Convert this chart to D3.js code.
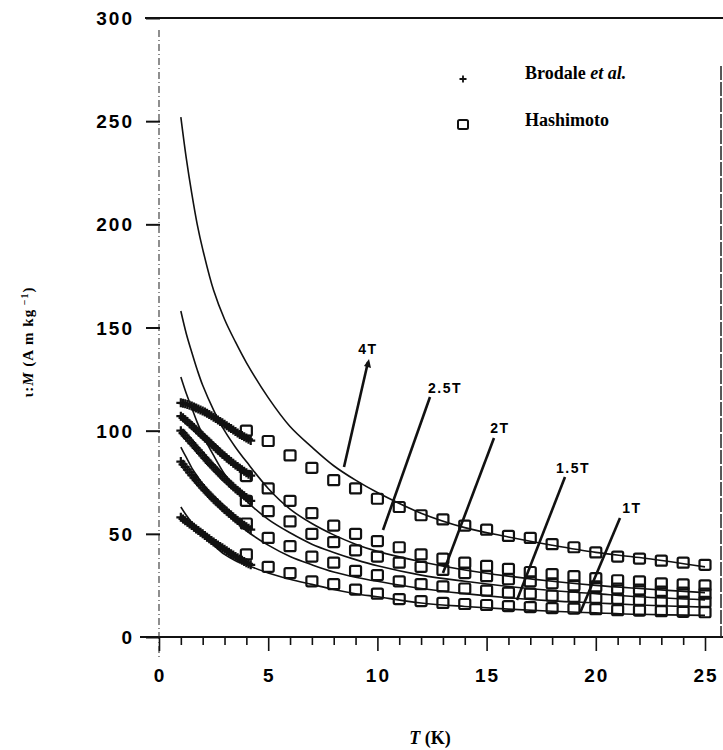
<!DOCTYPE html>
<html>
<head>
<meta charset="utf-8">
<script src="https://cdn.jsdelivr.net/npm/d3@7/dist/d3.min.js"></script>
<style>
  html, body { margin: 0; padding: 0; background: #fff; }
  svg { display: block; }
</style>
</head>
<body>
<svg id="chart" width="723" height="750"></svg>
<script>
// Magnetisation vs temperature for several applied fields
const fields = ["4T", "2.5T", "2T", "1.5T", "1T"];

// Calculated curves (solid lines)
const curveT = [1, 1.25, 1.5, 1.75, 2, 2.5, 3, 3.5, 4, 5, 6, 7, 8, 9, 10, 12, 14, 16, 18, 20, 22, 25];
const curve4T  = [252, 232, 215, 200, 188, 168, 154, 143, 133, 116, 102, 92, 83, 76, 70, 60, 53, 48.5, 44.5, 41, 38.5, 34];
const curve25T = [158, 147, 138, 129.5, 122, 110, 100, 92, 85, 72, 62, 55, 49.5, 45, 41.5, 36.5, 32.5, 29.5, 27, 25, 23.5, 21.5];
const curve2T  = [126, 118, 111, 104, 98, 88, 79, 72, 66, 57, 50.5, 45, 41, 37.5, 34.5, 30, 27, 24.5, 22.5, 21, 19.5, 18];
const curve15T = [92, 87, 82, 78, 74, 67, 61, 56, 51.5, 44.5, 39, 35, 31.5, 29, 27, 23.5, 21, 19, 17.5, 16.5, 15.5, 14.5];
const curve1T  = [63, 59, 55.5, 52.5, 49.5, 44.5, 40, 37, 35, 31, 28, 25.5, 23, 21, 19.5, 16.5, 14.8, 13.5, 12.5, 11.7, 11, 10.5];

// Brodale et al. (crosses), 1.0 K to 4.2 K
const brodaleT = [1.0,1.1,1.2,1.3,1.4,1.5,1.6,1.7,1.8,1.9,2.0,2.1,2.2,2.3,2.4,2.5,2.6,2.7,2.8,2.9,3.0,3.1,3.2,3.3,3.4,3.5,3.6,3.7,3.8,3.9,4.0,4.1,4.2];
const brodale4T  = [113.5,113.3,113,112.7,112.3,112,111.5,111,110.5,110,109.5,109,108.4,107.8,107.2,106.5,105.9,105.2,104.5,103.8,103.1,102.4,101.7,101,100.3,99.6,98.9,98.2,97.6,97,96.4,95.8,95.2];
const brodale25T = [107,106.2,105.3,104.4,103.4,102.5,101.5,100.5,99.5,98.5,97.5,96.5,95.5,94.5,93.5,92.5,91.5,90.5,89.5,88.6,87.7,86.8,85.9,85,84.2,83.4,82.6,81.8,81,80.3,79.6,78.9,78.2];
const brodale2T  = [100,98.8,97.6,96.4,95.2,94,92.8,91.6,90.4,89.2,88,86.8,85.6,84.4,83.3,82.2,81.1,80,78.9,77.8,76.8,75.8,74.8,73.8,72.8,71.9,71,70.1,69.2,68.4,67.6,66.8,66];
const brodale15T = [85,83.7,82.4,81.1,79.8,78.5,77.2,76,74.8,73.6,72.4,71.2,70.1,69,67.9,66.8,65.8,64.8,63.8,62.8,61.8,60.9,60,59.1,58.2,57.3,56.5,55.7,54.9,54.1,53.4,52.7,52];
const brodale1T  = [58,57.2,56.4,55.6,54.8,54,53.2,52.4,51.6,50.8,50,49.2,48.4,47.6,46.8,46,45.3,44.6,43.9,43.2,42.5,41.8,41.1,40.4,39.7,39,38.4,37.8,37.2,36.6,36,35.5,35];

// Hashimoto (squares), 4 K to 25 K
const hashiT = [4,5,6,7,8,9,10,11,12,13,14,15,16,17,18,19,20,21,22,23,24,25];
const hashi4T  = [100,95,88,82,76,72,67,63,59,57,54,52,49,48,45,43.5,41,39,38,37,36,35];
const hashi25T = [78,72,66,60,54,50,46.5,43.5,40,38,36,34.5,33,31.5,30.5,29.5,28.5,27.5,27,26,25.5,25];
const hashi2T  = [66,61,56,50,46,42,39,36,34,32.5,31,29.5,28,27,26,25,24.5,23.5,23,22,21.5,21];
const hashi15T = [55,48,44,39,36,32,30,27,25.6,24.5,23.5,22.5,21.5,21,20,19.5,19,18.5,18,17.5,17.2,17];
const hashi1T  = [40,34,31,27,25.6,23,21,18.4,17.4,16.5,16,15.5,15,14.5,14,13.8,13.5,13,12.8,12.5,12.2,12];

const xTickLabels = [0, 5, 10, 15, 20, 25];
const yTickLabels = [0, 50, 100, 150, 200, 250, 300];
const legendLabels = ["Brodale", "Hashimoto"];

const curves   = [curve4T, curve25T, curve2T, curve15T, curve1T];
const brodale  = [brodale4T, brodale25T, brodale2T, brodale15T, brodale1T];
const hashi    = [hashi4T, hashi25T, hashi2T, hashi15T, hashi1T];

const svg = d3.select("#chart");
const x = d3.scaleLinear().domain([0, 25]).range([159, 705]);
const y = d3.scaleLinear().domain([0, 300]).range([637, 18]);

const sans = "'Liberation Sans', Arial, sans-serif";
const serif = "'Liberation Serif', 'Times New Roman', serif";

// frame: top and bottom solid, left dash-dot, right partial
svg.append("line").attr("x1", 145).attr("x2", 723).attr("y1", y(300)).attr("y2", y(300))
  .attr("stroke", "#111").attr("stroke-width", 2);
svg.append("line").attr("x1", 140).attr("x2", 723).attr("y1", y(0)).attr("y2", y(0))
  .attr("stroke", "#111").attr("stroke-width", 2.2);
svg.append("line").attr("x1", x(0)).attr("x2", x(0)).attr("y1", 30).attr("y2", 660)
  .attr("stroke", "#333").attr("stroke-width", 1.1).attr("stroke-dasharray", "7,3,1,3");
svg.append("line").attr("x1", 721).attr("x2", 721).attr("y1", 66).attr("y2", y(0))
  .attr("stroke", "#222").attr("stroke-width", 1.5).attr("stroke-dasharray", "14,2");

// x axis ticks
const xAxis = d3.axisBottom(x)
  .tickValues(d3.range(0, 26, 1))
  .tickSize(0)
  .tickFormat("");
const gx = svg.append("g").attr("transform", `translate(0,${y(0)})`).call(xAxis);
gx.select(".domain").remove();
gx.selectAll(".tick").append("line")
  .attr("y1", 0)
  .attr("y2", d => d % 5 === 0 ? 14 : 8)
  .attr("stroke", "#111")
  .attr("stroke-width", 1.6);
svg.append("g").selectAll("text").data(xTickLabels).join("text")
  .attr("x", d => x(d) + 1)
  .attr("y", 682)
  .attr("text-anchor", "middle")
  .attr("font-family", sans).attr("font-weight", "bold").attr("font-size", 19)
  .attr("letter-spacing", 2)
  .text(d => d);

// y axis ticks
const yAxis = d3.axisLeft(y).tickValues(yTickLabels).tickSize(0).tickFormat("");
const gy = svg.append("g").attr("transform", `translate(${x(0)},0)`).call(yAxis);
gy.select(".domain").remove();
gy.selectAll(".tick").append("line")
  .attr("x1", -13).attr("x2", 1)
  .attr("stroke", "#111").attr("stroke-width", 2);
svg.append("g").selectAll("text").data(yTickLabels).join("text")
  .attr("x", 134)
  .attr("y", d => y(d) + 7)
  .attr("text-anchor", "end")
  .attr("font-family", sans).attr("font-weight", "bold").attr("font-size", 19)
  .attr("letter-spacing", 2)
  .text(d => d);

// calculated curves
const line = d3.line()
  .x(d => x(d[0]))
  .y(d => y(d[1]))
  .curve(d3.curveCatmullRom.alpha(0.5));
svg.append("g").selectAll("path").data(curves).join("path")
  .attr("d", vals => line(curveT.map((t, i) => [t, vals[i]])))
  .attr("fill", "none")
  .attr("stroke", "#111")
  .attr("stroke-width", 1.6);

// Brodale crosses
const crossPath = "M-4.5,0H4.5M0,-4.5V4.5";
brodale.forEach(vals => {
  svg.append("g").selectAll("path").data(brodaleT.map((t, i) => [t, vals[i]])).join("path")
    .attr("transform", d => `translate(${x(d[0])},${y(d[1])})`)
    .attr("d", crossPath)
    .attr("stroke", "#111")
    .attr("stroke-width", 2.2)
    .attr("fill", "none");
});

// Hashimoto squares
hashi.forEach(vals => {
  svg.append("g").selectAll("rect").data(hashiT.map((t, i) => [t, vals[i]])).join("rect")
    .attr("x", d => x(d[0]) - 5.5)
    .attr("y", d => y(d[1]) - 5)
    .attr("width", 11)
    .attr("height", 10)
    .attr("rx", 1.5)
    .attr("fill", "none")
    .attr("stroke", "#111")
    .attr("stroke-width", 2.2);
});

// field labels with pointer lines
const pointers = [
  { label: fields[0], lx: 368, ly: 349, x1: 368, y1: 362, x2: 344, y2: 467, arrow: true },
  { label: fields[1], lx: 445, ly: 388, x1: 430, y1: 397, x2: 383, y2: 530 },
  { label: fields[2], lx: 500, ly: 428, x1: 494, y1: 438, x2: 443, y2: 573 },
  { label: fields[3], lx: 573, ly: 468, x1: 565, y1: 477, x2: 517, y2: 600 },
  { label: fields[4], lx: 632, ly: 508, x1: 620, y1: 518, x2: 580, y2: 613 }
];
const pg = svg.append("g");
pointers.forEach(p => {
  pg.append("line")
    .attr("x1", p.x1).attr("y1", p.y1).attr("x2", p.x2).attr("y2", p.y2)
    .attr("stroke", "#111").attr("stroke-width", 2.6);
  if (p.arrow) {
    pg.append("path")
      .attr("d", `M${p.x1 + 1},${p.y1 - 3} L${p.x1 - 4},${p.y1 + 4} L${p.x1 + 3},${p.y1 + 6} Z`)
      .attr("fill", "#111");
  }
  pg.append("text")
    .attr("x", p.lx).attr("y", p.ly + 5)
    .attr("text-anchor", "middle")
    .attr("font-family", sans).attr("font-weight", "bold").attr("font-size", 14)
    .attr("letter-spacing", 1.5)
    .text(p.label);
});

// legend
const lg = svg.append("g");
lg.append("path")
  .attr("transform", `translate(463,79)`)
  .attr("d", "M-3.5,0H3.5M0,-3.5V3.5")
  .attr("stroke", "#111").attr("stroke-width", 1.8);
const t1 = lg.append("text")
  .attr("x", 525).attr("y", 79)
  .attr("font-family", serif).attr("font-weight", "bold").attr("font-size", 18);
t1.append("tspan").text(legendLabels[0] + " ");
t1.append("tspan").attr("font-style", "italic").text("et al.");
lg.append("rect")
  .attr("x", 458).attr("y", 120).attr("width", 10).attr("height", 9).attr("rx", 1.5)
  .attr("fill", "none").attr("stroke", "#111").attr("stroke-width", 2);
lg.append("text")
  .attr("x", 525).attr("y", 126)
  .attr("font-family", serif).attr("font-weight", "bold").attr("font-size", 18)
  .text(legendLabels[1]);

// axis titles
const yt = svg.append("text")
  .attr("transform", "translate(33,342) rotate(-90)")
  .attr("text-anchor", "middle")
  .attr("font-family", serif).attr("font-weight", "bold").attr("font-size", 15)
  .attr("letter-spacing", 1);
yt.append("tspan").text("ι:");
yt.append("tspan").attr("font-style", "italic").text("M");
yt.append("tspan").text(" (A m kg");
yt.append("tspan").attr("baseline-shift", "super").attr("font-size", 10).text(" −1");
yt.append("tspan").text(")");

const xt = svg.append("text")
  .attr("x", 430).attr("y", 744)
  .attr("text-anchor", "middle")
  .attr("font-family", serif).attr("font-weight", "bold").attr("font-size", 18);
xt.append("tspan").attr("font-style", "italic").text("T");
xt.append("tspan").text(" (K)");
</script>
</body>
</html>
